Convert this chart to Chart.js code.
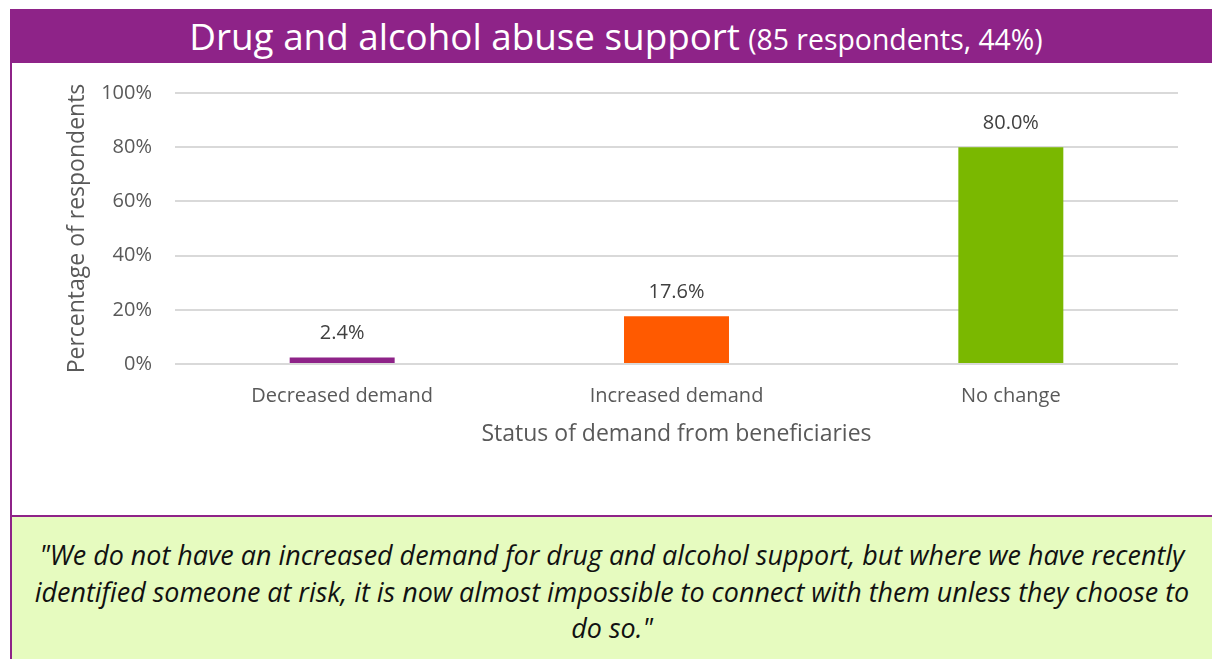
<!DOCTYPE html>
<html>
<head>
<meta charset="utf-8">
<title>Drug and alcohol abuse support</title>
<script src="https://cdn.jsdelivr.net/npm/chart.js@4"></script>
<style>
  html, body { margin: 0; padding: 0; background: #fff; }
  body { width: 1212px; height: 659px; position: relative; overflow: hidden; font-family: "Open Sans", sans-serif; }
  #header {
    position: absolute; left: 10px; top: 9px; width: 1202px; height: 54px;
    box-sizing: border-box; padding-left: 10px;
    background: #8e2388; color: #fff; text-align: center;
    line-height: 54px; white-space: nowrap;
  }
  #header .main { font-size: 36.8px; }
  #header .sub { font-size: 28.4px; margin-left: 4px; }
  #panel {
    position: absolute; left: 10px; top: 63px; width: 1202px; height: 452px;
    border-left: 2px solid #8e2388; box-sizing: border-box;
  }
  #chartBox { position: absolute; left: 12px; top: 63px; width: 1200px; height: 452px; }
  #divider { position: absolute; left: 10px; top: 515px; width: 1202px; height: 2px; background: #8e2388; }
  #quote {
    position: absolute; left: 10px; top: 517px; width: 1202px; height: 142px;
    border-left: 2px solid #8e2388; box-sizing: border-box;
    background: #e6fbbf; color: #111;
    font-style: italic; font-size: 26.9px; line-height: 36.5px;
    text-align: center; padding-top: 20px; white-space: nowrap;
  }
</style>
</head>
<body>
<div id="header"><span class="main">Drug and alcohol abuse support</span>&nbsp;<span class="sub">(85 respondents, 44%)</span></div>
<div id="panel"></div>
<div id="chartBox"><canvas id="demandChart"></canvas></div>
<div id="divider"></div>
<div id="quote">"We do not have an increased demand for drug and alcohol support, but where we have recently<br>identified someone at risk, it is now almost impossible to connect with them unless they choose to<br>do so."</div>

<script>
// categories and shares (%) of respondents
const categories = ['Decreased demand', 'Increased demand', 'No change'];
const shares = [2.4, 17.6, 80.0];
const barColors = ['#8e2388', '#ff5a00', '#7ab800'];
const yTicks = [0, 20, 40, 60, 80, 100];

const FONT = '"Open Sans", sans-serif';
const GREY = '#595959';

// value labels above each bar
const barValueLabels = {
    id: 'barValueLabels',
    afterDatasetsDraw(chart) {
        const ctx = chart.ctx;
        const meta = chart.getDatasetMeta(0);
        ctx.save();
        ctx.font = '20px ' + FONT;
        ctx.fillStyle = '#404040';
        ctx.textAlign = 'center';
        ctx.textBaseline = 'middle';
        meta.data.forEach((bar, i) => {
            ctx.fillText(shares[i].toFixed(1) + '%', bar.x, bar.y - 24);
        });
        ctx.restore();
    }
};

new Chart(document.getElementById('demandChart'), {
    type: 'bar',
    data: {
        labels: categories,
        datasets: [{
            data: shares,
            backgroundColor: barColors,
            borderWidth: 0,
            categoryPercentage: 1,
            barPercentage: 0.314
        }]
    },
    options: {
        responsive: true,
        maintainAspectRatio: false,
        animation: false,
        layout: { padding: { top: 30, right: 34, bottom: 67, left: 0 } },
        plugins: { legend: { display: false }, tooltip: { enabled: false } },
        scales: {
            x: {
                grid: { display: false, drawTicks: false },
                border: { display: false },
                ticks: { color: GREY, font: { family: FONT, size: 20 }, padding: 20 },
                title: {
                    display: true,
                    text: 'Status of demand from beneficiaries',
                    color: GREY,
                    font: { family: FONT, size: 23 },
                    padding: 0
                },
                afterFit(scale) { scale.height = 84; }
            },
            y: {
                min: 0,
                max: 100,
                afterBuildTicks(scale) { scale.ticks = yTicks.map(v => ({ value: v })); },
                grid: { color: '#d9d9d9', lineWidth: 2, drawTicks: false },
                border: { display: false },
                ticks: {
                    color: GREY,
                    font: { family: FONT, size: 20 },
                    padding: 23,
                    callback: v => v + '%'
                },
                title: {
                    display: true,
                    text: 'Percentage of respondents',
                    color: GREY,
                    font: { family: FONT, size: 23 },
                    padding: { top: 52, bottom: 0 }
                },
                // fixed axis width; tick padding should not push the plot top down
                afterFit(scale) {
                    scale.width = 163;
                    scale.paddingTop = 0;
                    scale.paddingBottom = 0;
                }
            }
        }
    },
    plugins: [barValueLabels]
});
</script>
</body>
</html>
